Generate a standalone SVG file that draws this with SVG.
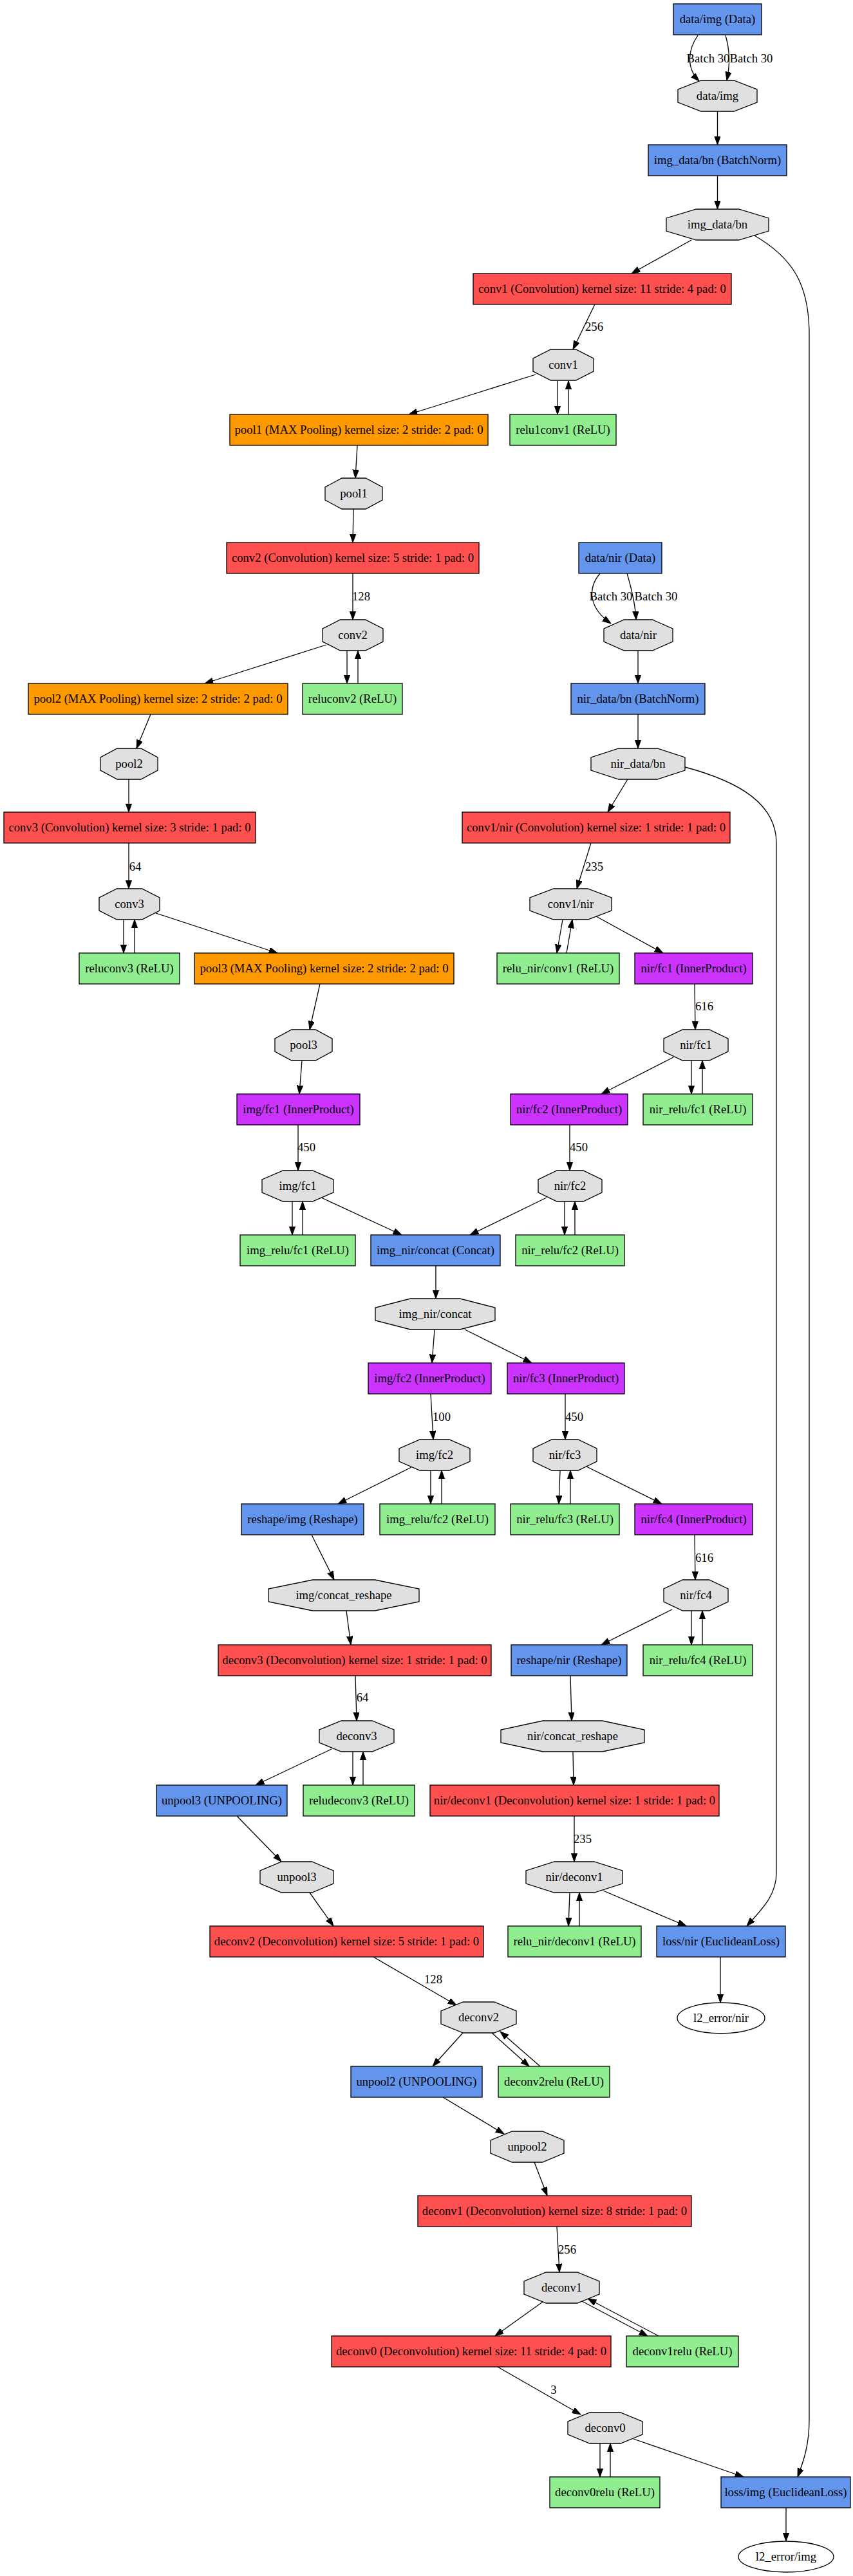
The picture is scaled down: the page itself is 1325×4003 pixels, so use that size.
<svg xmlns="http://www.w3.org/2000/svg" width="1325" height="4003" viewBox="0 0 1325 4003">
<style>
.n rect, .n polygon, .n ellipse { stroke: #000; stroke-width: 1.3; }
.conv { fill: #FF5050; }
.pool { fill: #FF9900; }
.ip { fill: #CC33FF; }
.oth { fill: #6495ED; }
.relu { fill: #90EE90; }
.blob { fill: #E0E0E0; }
.out { fill: #FFFFFF; }
text { font-family: "Liberation Serif", "Times New Roman", serif; font-size: 18.67px; text-anchor: middle; fill: #000; }
#edges path { fill: none; stroke: #000; stroke-width: 1.3; marker-end: url(#ah); }
</style>
<defs>
<marker id="ah" markerUnits="userSpaceOnUse" markerWidth="14" markerHeight="10" viewBox="0 0 14 10" refX="13.3" refY="4.7" orient="auto">
<path d="M0,0 L13.3,4.7 L0,9.4 z" fill="#000" stroke="#000" stroke-width="1"/>
</marker>
</defs>

<g id="edges">
<path d="M1084,55 C1068,78 1066,106 1086,126"/>
<path d="M1127,55 C1134,80 1134,100 1129,125"/>
<path d="M1114.5,173 L1114.5,225"/>
<path d="M1114.5,273 L1114.5,325"/>
<path d="M1074,373 L981,425"/>
<path d="M1172,366 C1230,400 1257,440 1257,520 L1257,3760 C1257,3800 1248,3825 1239,3849"/>
<path d="M924,473 L890,543"/>
<path d="M832,582 L635,644"/>
<path d="M866,592 L866,644"/>
<path d="M883,644 L883,592"/>
<path d="M555,692 L552,743"/>
<path d="M549,791 L548,843"/>
<path d="M548,891 L548,963"/>
<path d="M507,1002 L318,1062"/>
<path d="M539,1011 L539,1062"/>
<path d="M556,1062 L556,1011"/>
<path d="M932,891 C912,915 915,945 949,969"/>
<path d="M974,891 C981,915 987,940 988,963"/>
<path d="M991,1011 L991,1062"/>
<path d="M234,1110 L212,1163"/>
<path d="M991,1110 L991,1163"/>
<path d="M200,1211 L200,1262"/>
<path d="M975,1211 L944,1262"/>
<path d="M1064,1192 C1150,1215 1206,1250 1206,1310 L1206,2910 C1206,2945 1185,2965 1160,2993"/>
<path d="M200,1310 L200,1381"/>
<path d="M918,1310 L896,1381"/>
<path d="M192,1429 L192,1481"/>
<path d="M209,1481 L209,1429"/>
<path d="M242,1419 L431,1481"/>
<path d="M874,1429 L865,1481"/>
<path d="M880,1481 L889,1429"/>
<path d="M926,1424 L1030,1481"/>
<path d="M497,1529 L481,1600"/>
<path d="M1079,1529 L1080,1600"/>
<path d="M469,1648 L465,1700"/>
<path d="M1046,1643 L934,1700"/>
<path d="M1074,1648 L1074,1700"/>
<path d="M1091,1700 L1091,1648"/>
<path d="M463,1748 L463,1819"/>
<path d="M885,1748 L885,1819"/>
<path d="M454,1867 L454,1919"/>
<path d="M470,1919 L470,1867"/>
<path d="M499,1861 L624,1919"/>
<path d="M849,1861 L730,1919"/>
<path d="M877,1867 L877,1919"/>
<path d="M893,1919 L893,1867"/>
<path d="M677,1967 L677,2018"/>
<path d="M675,2066 L671,2118"/>
<path d="M722,2066 L826,2118"/>
<path d="M669,2166 L673,2237"/>
<path d="M878,2166 L878,2237"/>
<path d="M639,2280 L525,2337"/>
<path d="M669,2285 L669,2337"/>
<path d="M686,2337 L686,2285"/>
<path d="M870,2285 L868,2337"/>
<path d="M886,2337 L886,2285"/>
<path d="M911,2279 L1028,2337"/>
<path d="M484,2385 L519,2455"/>
<path d="M1079,2385 L1080,2455"/>
<path d="M538,2503 L545,2556"/>
<path d="M1044,2501 L934,2556"/>
<path d="M1074,2503 L1074,2556"/>
<path d="M1091,2556 L1091,2503"/>
<path d="M552,2604 L554,2674"/>
<path d="M886,2604 L888,2674"/>
<path d="M515,2718 L397,2774"/>
<path d="M548,2722 L548,2774"/>
<path d="M564,2774 L564,2722"/>
<path d="M890,2722 L891,2774"/>
<path d="M368,2822 L437,2893"/>
<path d="M892,2822 L892,2893"/>
<path d="M481,2941 L518,2993"/>
<path d="M885,2941 L883,2993"/>
<path d="M900,2993 L900,2941"/>
<path d="M937,2938 L1066,2993"/>
<path d="M580,3041 L709,3116"/>
<path d="M1119,3041 L1119,3112"/>
<path d="M719,3159 L672,3211"/>
<path d="M764,3159 L822,3211"/>
<path d="M839,3211 L777,3157"/>
<path d="M688,3259 L783,3316"/>
<path d="M830,3360 L850,3412"/>
<path d="M865,3460 L869,3531"/>
<path d="M843,3577 L769,3630"/>
<path d="M904,3576 L1006,3630"/>
<path d="M1023,3630 L913,3572"/>
<path d="M773,3678 L902,3752"/>
<path d="M932,3797 L932,3849"/>
<path d="M948,3849 L948,3797"/>
<path d="M984,3790 L1155,3849"/>
<path d="M1221,3897 L1221,3949"/>
</g>

<g id="edge-labels">
<text x="1100" y="97">Batch 30</text>
<text x="1167" y="97">Batch 30</text>
<text x="923" y="514">256</text>
<text x="561" y="933">128</text>
<text x="949" y="933">Batch 30</text>
<text x="1019" y="933">Batch 30</text>
<text x="210" y="1353">64</text>
<text x="923" y="1353">235</text>
<text x="1094" y="1570">616</text>
<text x="476" y="1789">450</text>
<text x="899" y="1789">450</text>
<text x="686" y="2208">100</text>
<text x="892" y="2208">450</text>
<text x="1094" y="2427">616</text>
<text x="563" y="2644">64</text>
<text x="905" y="2864">235</text>
<text x="673" y="3082">128</text>
<text x="881" y="3502">256</text>
<text x="860" y="3720">3</text>
</g>

<g class="n">
<g id="n_data_img"><rect class="oth" x="1046" y="6" width="137" height="48"/><text x="1114.5" y="36">data/img (Data)</text></g>
<g id="b_data_img"><polygon class="blob" points="1089,125 1140,125 1176,139 1176,159 1140,173 1089,173 1053,159 1053,139"/><text x="1114.5" y="155">data/img</text></g>
<g id="n_img_bn"><rect class="oth" x="1007" y="225" width="215" height="48"/><text x="1114.5" y="255">img_data/bn (BatchNorm)</text></g>
<g id="b_img_bn"><polygon class="blob" points="1081.5,325 1147.5,325 1194,339 1194,359 1147.5,373 1081.5,373 1035,359 1035,339"/><text x="1114.5" y="355">img_data/bn</text></g>
<g id="n_conv1"><rect class="conv" x="735" y="425" width="401" height="48"/><text x="935.5" y="455">conv1 (Convolution) kernel size: 11 stride: 4 pad: 0</text></g>
<g id="b_conv1"><polygon class="blob" points="855.5,543 894.5,543 922,557 922,577 894.5,591 855.5,591 828,577 828,557"/><text x="875" y="573">conv1</text></g>
<g id="n_pool1"><rect class="pool" x="357" y="644" width="401" height="48"/><text x="557.5" y="674">pool1 (MAX Pooling) kernel size: 2 stride: 2 pad: 0</text></g>
<g id="n_relu1conv1"><rect class="relu" x="792" y="644" width="165" height="48"/><text x="874.5" y="674">relu1conv1 (ReLU)</text></g>
<g id="b_pool1"><polygon class="blob" points="531,743 568,743 594,757 594,777 568,791 531,791 505,777 505,757"/><text x="549.5" y="773">pool1</text></g>
<g id="n_conv2"><rect class="conv" x="352" y="843" width="392" height="48"/><text x="548" y="873">conv2 (Convolution) kernel size: 5 stride: 1 pad: 0</text></g>
<g id="n_data_nir"><rect class="oth" x="899" y="843" width="129" height="48"/><text x="963.5" y="873">data/nir (Data)</text></g>
<g id="b_conv2"><polygon class="blob" points="528.5,963 567.5,963 595,977 595,997 567.5,1011 528.5,1011 501,997 501,977"/><text x="548" y="993">conv2</text></g>
<g id="b_data_nir"><polygon class="blob" points="969.5,963 1013.5,963 1045,977 1045,997 1013.5,1011 969.5,1011 938,997 938,977"/><text x="991.5" y="993">data/nir</text></g>
<g id="n_pool2"><rect class="pool" x="44" y="1062" width="403" height="48"/><text x="245.5" y="1092">pool2 (MAX Pooling) kernel size: 2 stride: 2 pad: 0</text></g>
<g id="n_reluconv2"><rect class="relu" x="470" y="1062" width="155" height="48"/><text x="547.5" y="1092">reluconv2 (ReLU)</text></g>
<g id="n_nir_bn"><rect class="oth" x="887" y="1062" width="208" height="48"/><text x="991" y="1092">nir_data/bn (BatchNorm)</text></g>
<g id="b_pool2"><polygon class="blob" points="182,1163 219,1163 245,1177 245,1197 219,1211 182,1211 156,1197 156,1177"/><text x="200.5" y="1193">pool2</text></g>
<g id="b_nir_bn"><polygon class="blob" points="961,1163 1021,1163 1064,1177 1064,1197 1021,1211 961,1211 918,1197 918,1177"/><text x="991" y="1193">nir_data/bn</text></g>
<g id="n_conv3"><rect class="conv" x="6" y="1262" width="391" height="48"/><text x="201.5" y="1292">conv3 (Convolution) kernel size: 3 stride: 1 pad: 0</text></g>
<g id="n_conv1nir"><rect class="conv" x="718" y="1262" width="416" height="48"/><text x="926" y="1292">conv1/nir (Convolution) kernel size: 1 stride: 1 pad: 0</text></g>
<g id="b_conv3"><polygon class="blob" points="181.5,1381 220.5,1381 248,1395 248,1415 220.5,1429 181.5,1429 154,1415 154,1395"/><text x="201" y="1411">conv3</text></g>
<g id="b_conv1nir"><polygon class="blob" points="860,1381 913,1381 950,1395 950,1415 913,1429 860,1429 823,1415 823,1395"/><text x="886.5" y="1411">conv1/nir</text></g>
<g id="n_reluconv3"><rect class="relu" x="123" y="1481" width="156" height="48"/><text x="201" y="1511">reluconv3 (ReLU)</text></g>
<g id="n_pool3"><rect class="pool" x="302" y="1481" width="403" height="48"/><text x="503.5" y="1511">pool3 (MAX Pooling) kernel size: 2 stride: 2 pad: 0</text></g>
<g id="n_relu_nir_conv1"><rect class="relu" x="772" y="1481" width="190" height="48"/><text x="867" y="1511">relu_nir/conv1 (ReLU)</text></g>
<g id="n_nir_fc1"><rect class="ip" x="986" y="1481" width="183" height="48"/><text x="1077.5" y="1511">nir/fc1 (InnerProduct)</text></g>
<g id="b_pool3"><polygon class="blob" points="453,1600 490,1600 516,1614 516,1634 490,1648 453,1648 427,1634 427,1614"/><text x="471.5" y="1630">pool3</text></g>
<g id="b_nir_fc1"><polygon class="blob" points="1060.3,1600 1101.7,1600 1131,1614 1131,1634 1101.7,1648 1060.3,1648 1031,1634 1031,1614"/><text x="1081" y="1630">nir/fc1</text></g>
<g id="n_img_fc1"><rect class="ip" x="368" y="1700" width="191" height="48"/><text x="463.5" y="1730">img/fc1 (InnerProduct)</text></g>
<g id="n_nir_fc2"><rect class="ip" x="793" y="1700" width="182" height="48"/><text x="884" y="1730">nir/fc2 (InnerProduct)</text></g>
<g id="n_nir_relu_fc1"><rect class="relu" x="999" y="1700" width="170" height="48"/><text x="1084" y="1730">nir_relu/fc1 (ReLU)</text></g>
<g id="b_img_fc1"><polygon class="blob" points="439.5,1819 485.5,1819 518,1833 518,1853 485.5,1867 439.5,1867 407,1853 407,1833"/><text x="462.5" y="1849">img/fc1</text></g>
<g id="b_nir_fc2"><polygon class="blob" points="865,1819 906,1819 935,1833 935,1853 906,1867 865,1867 836,1853 836,1833"/><text x="885.5" y="1849">nir/fc2</text></g>
<g id="n_img_relu_fc1"><rect class="relu" x="373" y="1919" width="179" height="48"/><text x="462.5" y="1949">img_relu/fc1 (ReLU)</text></g>
<g id="n_concat"><rect class="oth" x="576" y="1919" width="201" height="48"/><text x="676.5" y="1949">img_nir/concat (Concat)</text></g>
<g id="n_nir_relu_fc2"><rect class="relu" x="801" y="1919" width="169" height="48"/><text x="885.5" y="1949">nir_relu/fc2 (ReLU)</text></g>
<g id="b_concat"><polygon class="blob" points="637.5,2018 714.5,2018 769,2032 769,2052 714.5,2066 637.5,2066 583,2052 583,2032"/><text x="676" y="2048">img_nir/concat</text></g>
<g id="n_img_fc2"><rect class="ip" x="572" y="2118" width="191" height="48"/><text x="667.5" y="2148">img/fc2 (InnerProduct)</text></g>
<g id="n_nir_fc3"><rect class="ip" x="788" y="2118" width="182" height="48"/><text x="879" y="2148">nir/fc3 (InnerProduct)</text></g>
<g id="b_img_fc2"><polygon class="blob" points="652.2,2237 697.8,2237 730,2251 730,2271 697.8,2285 652.2,2285 620,2271 620,2251"/><text x="675" y="2267">img/fc2</text></g>
<g id="b_nir_fc3"><polygon class="blob" points="857,2237 898,2237 927,2251 927,2271 898,2285 857,2285 828,2271 828,2251"/><text x="877.5" y="2267">nir/fc3</text></g>
<g id="n_reshape_img"><rect class="oth" x="375" y="2337" width="190" height="48"/><text x="470" y="2367">reshape/img (Reshape)</text></g>
<g id="n_img_relu_fc2"><rect class="relu" x="590" y="2337" width="179" height="48"/><text x="679.5" y="2367">img_relu/fc2 (ReLU)</text></g>
<g id="n_nir_relu_fc3"><rect class="relu" x="793" y="2337" width="169" height="48"/><text x="877.5" y="2367">nir_relu/fc3 (ReLU)</text></g>
<g id="n_nir_fc4"><rect class="ip" x="986" y="2337" width="183" height="48"/><text x="1077.5" y="2367">nir/fc4 (InnerProduct)</text></g>
<g id="b_img_concat_reshape"><polygon class="blob" points="485.6,2455 582.4,2455 651,2469 651,2489 582.4,2503 485.6,2503 417,2489 417,2469"/><text x="534" y="2485">img/concat_reshape</text></g>
<g id="b_nir_fc4"><polygon class="blob" points="1060.3,2455 1101.7,2455 1131,2469 1131,2489 1101.7,2503 1060.3,2503 1031,2489 1031,2469"/><text x="1081" y="2485">nir/fc4</text></g>
<g id="n_deconv3"><rect class="conv" x="339" y="2556" width="424" height="48"/><text x="551" y="2586">deconv3 (Deconvolution) kernel size: 1 stride: 1 pad: 0</text></g>
<g id="n_reshape_nir"><rect class="oth" x="794" y="2556" width="180" height="48"/><text x="884" y="2586">reshape/nir (Reshape)</text></g>
<g id="n_nir_relu_fc4"><rect class="relu" x="999" y="2556" width="170" height="48"/><text x="1084" y="2586">nir_relu/fc4 (ReLU)</text></g>
<g id="b_deconv3"><polygon class="blob" points="530,2674 578,2674 612,2688 612,2708 578,2722 530,2722 496,2708 496,2688"/><text x="554" y="2704">deconv3</text></g>
<g id="b_nir_concat_reshape"><polygon class="blob" points="843.3,2674 935.7,2674 1001,2688 1001,2708 935.7,2722 843.3,2722 778,2708 778,2688"/><text x="889.5" y="2704">nir/concat_reshape</text></g>
<g id="n_unpool3"><rect class="oth" x="243" y="2774" width="203" height="48"/><text x="344.5" y="2804">unpool3 (UNPOOLING)</text></g>
<g id="n_reludeconv3"><rect class="relu" x="471" y="2774" width="173" height="48"/><text x="557.5" y="2804">reludeconv3 (ReLU)</text></g>
<g id="n_nir_deconv1"><rect class="conv" x="668" y="2774" width="449" height="48"/><text x="892.5" y="2804">nir/deconv1 (Deconvolution) kernel size: 1 stride: 1 pad: 0</text></g>
<g id="b_unpool3"><polygon class="blob" points="437.4,2893 484.6,2893 518,2907 518,2927 484.6,2941 437.4,2941 404,2927 404,2907"/><text x="461" y="2923">unpool3</text></g>
<g id="b_nir_deconv1"><polygon class="blob" points="861,2893 923,2893 967,2907 967,2927 923,2941 861,2941 817,2927 817,2907"/><text x="892" y="2923">nir/deconv1</text></g>
<g id="n_deconv2"><rect class="conv" x="326" y="2993" width="425" height="48"/><text x="538.5" y="3023">deconv2 (Deconvolution) kernel size: 5 stride: 1 pad: 0</text></g>
<g id="n_relu_nir_deconv1"><rect class="relu" x="789" y="2993" width="207" height="48"/><text x="892.5" y="3023">relu_nir/deconv1 (ReLU)</text></g>
<g id="n_loss_nir"><rect class="oth" x="1020" y="2993" width="200" height="48"/><text x="1120" y="3023">loss/nir (EuclideanLoss)</text></g>
<g id="b_deconv2"><polygon class="blob" points="719.3,3111 767.7,3111 802,3125 802,3145 767.7,3159 719.3,3159 685,3145 685,3125"/><text x="743.5" y="3141">deconv2</text></g>
<g id="b_l2_error_nir"><ellipse class="out" cx="1120" cy="3136" rx="68" ry="24"/><text x="1120" y="3142">l2_error/nir</text></g>
<g id="n_unpool2"><rect class="oth" x="545" y="3211" width="204" height="48"/><text x="647" y="3241">unpool2 (UNPOOLING)</text></g>
<g id="n_deconv2relu"><rect class="relu" x="774" y="3211" width="173" height="48"/><text x="860.5" y="3241">deconv2relu (ReLU)</text></g>
<g id="b_unpool2"><polygon class="blob" points="795.4,3312 842.6,3312 876,3326 876,3346 842.6,3360 795.4,3360 762,3346 762,3326"/><text x="819" y="3342">unpool2</text></g>
<g id="n_deconv1"><rect class="conv" x="649" y="3412" width="425" height="48"/><text x="861.5" y="3442">deconv1 (Deconvolution) kernel size: 8 stride: 1 pad: 0</text></g>
<g id="b_deconv1"><polygon class="blob" points="848.3,3531 896.7,3531 931,3545 931,3565 896.7,3579 848.3,3579 814,3565 814,3545"/><text x="872.5" y="3561">deconv1</text></g>
<g id="n_deconv0"><rect class="conv" x="515" y="3630" width="434" height="48"/><text x="732" y="3660">deconv0 (Deconvolution) kernel size: 11 stride: 4 pad: 0</text></g>
<g id="n_deconv1relu"><rect class="relu" x="973" y="3630" width="174" height="48"/><text x="1060" y="3660">deconv1relu (ReLU)</text></g>
<g id="b_deconv0"><polygon class="blob" points="916,3749 964,3749 998,3763 998,3783 964,3797 916,3797 882,3783 882,3763"/><text x="940" y="3779">deconv0</text></g>
<g id="n_deconv0relu"><rect class="relu" x="854" y="3849" width="171" height="48"/><text x="939.5" y="3879">deconv0relu (ReLU)</text></g>
<g id="n_loss_img"><rect class="oth" x="1120" y="3849" width="201" height="48"/><text x="1220.5" y="3879">loss/img (EuclideanLoss)</text></g>
<g id="b_l2_error_img"><ellipse class="out" cx="1221" cy="3973" rx="74" ry="24"/><text x="1221" y="3979">l2_error/img</text></g>
</g>
</svg>
